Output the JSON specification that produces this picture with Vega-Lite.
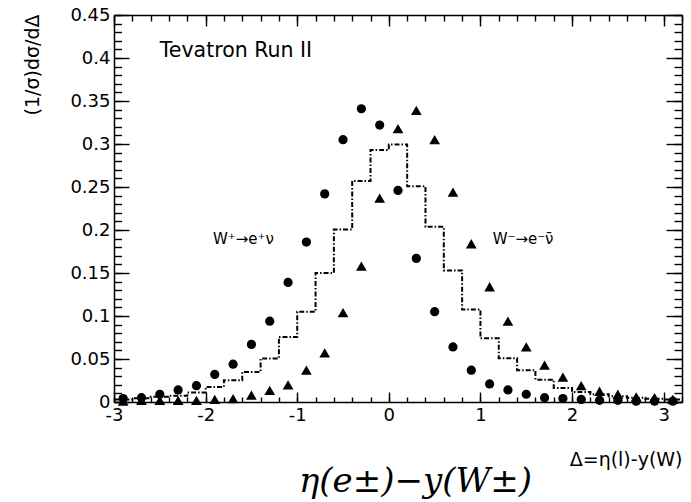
{
  "$schema": "https://vega.github.io/schema/vega-lite/v6.json",
  "width": 568,
  "height": 387,
  "autosize": {"type": "none"},
  "padding": {"left": 114, "top": 15, "right": 9, "bottom": 100},
  "background": "white",
  "config": {
    "view": {"stroke": null},
    "font": "DejaVu Sans",
    "axis": {
      "grid": false,
      "labelFont": "DejaVu Sans",
      "labelColor": "black",
      "tickColor": "black",
      "domainColor": "black",
      "domainWidth": 1.5,
      "tickWidth": 1.4,
      "labelFlush": false,
      "labelOverlap": false,
      "titleColor": "black",
      "titleFontWeight": "normal",
      "titleFont": "DejaVu Sans"
    }
  },
  "datasets": {
    "wplus": [
      {"delta": -2.9, "value": 0.004}, {"delta": -2.7, "value": 0.005}, {"delta": -2.5, "value": 0.009},
      {"delta": -2.3, "value": 0.014}, {"delta": -2.1, "value": 0.019}, {"delta": -1.9, "value": 0.032},
      {"delta": -1.7, "value": 0.044}, {"delta": -1.5, "value": 0.067}, {"delta": -1.3, "value": 0.094},
      {"delta": -1.1, "value": 0.139}, {"delta": -0.9, "value": 0.186}, {"delta": -0.7, "value": 0.242},
      {"delta": -0.5, "value": 0.305}, {"delta": -0.3, "value": 0.341}, {"delta": -0.1, "value": 0.322},
      {"delta": 0.1, "value": 0.246}, {"delta": 0.3, "value": 0.167}, {"delta": 0.5, "value": 0.105},
      {"delta": 0.7, "value": 0.064}, {"delta": 0.9, "value": 0.037}, {"delta": 1.1, "value": 0.021},
      {"delta": 1.3, "value": 0.014}, {"delta": 1.5, "value": 0.009}, {"delta": 1.7, "value": 0.005},
      {"delta": 1.9, "value": 0.004}, {"delta": 2.1, "value": 0.003}, {"delta": 2.3, "value": 0.002},
      {"delta": 2.5, "value": 0.002}, {"delta": 2.7, "value": 0.001}, {"delta": 2.9, "value": 0.001},
      {"delta": 3.1, "value": 0.001}
    ],
    "wminus": [
      {"delta": -2.9, "value": 0.001}, {"delta": -2.7, "value": 0.002}, {"delta": -2.5, "value": 0.002},
      {"delta": -2.3, "value": 0.002}, {"delta": -2.1, "value": 0.002}, {"delta": -1.9, "value": 0.003},
      {"delta": -1.7, "value": 0.004}, {"delta": -1.5, "value": 0.008}, {"delta": -1.3, "value": 0.0136},
      {"delta": -1.1, "value": 0.02}, {"delta": -0.9, "value": 0.037}, {"delta": -0.7, "value": 0.057},
      {"delta": -0.5, "value": 0.104}, {"delta": -0.3, "value": 0.158}, {"delta": -0.1, "value": 0.237},
      {"delta": 0.1, "value": 0.318}, {"delta": 0.3, "value": 0.339}, {"delta": 0.5, "value": 0.305},
      {"delta": 0.7, "value": 0.244}, {"delta": 0.9, "value": 0.184}, {"delta": 1.1, "value": 0.134},
      {"delta": 1.3, "value": 0.094}, {"delta": 1.5, "value": 0.064}, {"delta": 1.7, "value": 0.043},
      {"delta": 1.9, "value": 0.029}, {"delta": 2.1, "value": 0.019}, {"delta": 2.3, "value": 0.0125},
      {"delta": 2.5, "value": 0.009}, {"delta": 2.7, "value": 0.006}, {"delta": 2.9, "value": 0.005},
      {"delta": 3.1, "value": 0.003}
    ],
    "hist": [
      {"edge": -3.0, "value": 0.003}, {"edge": -2.8, "value": 0.0043}, {"edge": -2.6, "value": 0.006},
      {"edge": -2.4, "value": 0.0074}, {"edge": -2.2, "value": 0.011}, {"edge": -2.0, "value": 0.0175},
      {"edge": -1.8, "value": 0.0253}, {"edge": -1.6, "value": 0.035}, {"edge": -1.4, "value": 0.0505},
      {"edge": -1.2, "value": 0.0757}, {"edge": -1.0, "value": 0.105}, {"edge": -0.8, "value": 0.15},
      {"edge": -0.6, "value": 0.2006}, {"edge": -0.4, "value": 0.257}, {"edge": -0.2, "value": 0.293},
      {"edge": 0.0, "value": 0.2995}, {"edge": 0.2, "value": 0.251}, {"edge": 0.4, "value": 0.2037},
      {"edge": 0.6, "value": 0.153}, {"edge": 0.8, "value": 0.1075}, {"edge": 1.0, "value": 0.074},
      {"edge": 1.2, "value": 0.051}, {"edge": 1.4, "value": 0.0369}, {"edge": 1.6, "value": 0.026},
      {"edge": 1.8, "value": 0.0163}, {"edge": 2.0, "value": 0.0116}, {"edge": 2.2, "value": 0.009},
      {"edge": 2.4, "value": 0.0066}, {"edge": 2.6, "value": 0.005}, {"edge": 2.8, "value": 0.0037},
      {"edge": 3.0, "value": 0.003}, {"edge": 3.2, "value": 0.003}
    ]
  },
  "resolve": {"axis": {"x": "independent", "y": "independent"}},
  "layer": [
    {
      "data": {"name": "hist"},
      "mark": {"type": "line", "interpolate": "step-after", "color": "black", "strokeWidth": 2, "strokeDash": [5, 2, 1.5, 2]},
      "encoding": {
        "x": {"field": "edge", "type": "quantitative",
          "scale": {"domain": [-3, 3.2], "nice": false, "zero": false},
          "axis": {"orient": "top", "values": [-3, -2, -1, 0, 1, 2, 3], "tickSize": -11, "labels": false, "domain": true, "title": null}},
        "y": {"field": "value", "type": "quantitative",
          "scale": {"domain": [0, 0.45], "nice": false, "zero": true},
          "axis": {"orient": "right", "values": [0, 0.05, 0.1, 0.15, 0.2, 0.25, 0.3, 0.35, 0.4, 0.45], "tickSize": -16, "labels": false, "domain": true, "title": null}}
      }
    },
    {
      "data": {"name": "wplus"},
      "mark": {"type": "point", "shape": "circle", "filled": true, "size": 85, "color": "black", "opacity": 1},
      "encoding": {
        "x": {"field": "delta", "type": "quantitative",
          "scale": {"domain": [-3, 3.2], "nice": false, "zero": false},
          "axis": {"orient": "bottom", "values": [-3, -2, -1, 0, 1, 2, 3], "tickSize": -10, "labelPadding": 14,
            "labelFontSize": 18, "labelExpr": "datum.value + ''", "domain": true,
            "title": "Δ=η(l)-y(W)", "titleFontSize": 19, "titleX": 568, "titleY": 57, "titleAlign": "right",
            "titleBaseline": "middle", "titleAngle": 0}},
        "y": {"field": "value", "type": "quantitative",
          "scale": {"domain": [0, 0.45], "nice": false, "zero": true},
          "axis": {"orient": "left", "values": [0, 0.05, 0.1, 0.15, 0.2, 0.25, 0.3, 0.35, 0.4, 0.45], "tickSize": -15,
            "labelPadding": 19, "labelFontSize": 18, "labelExpr": "datum.value + ''", "domain": true,
            "title": "(1/σ)dσ/dΔ", "titleFontSize": 19, "titleX": -82, "titleY": -1, "titleAngle": -90,
            "titleAlign": "right", "titleBaseline": "middle"}}
      }
    },
    {
      "data": {"name": "wminus"},
      "mark": {"type": "point", "shape": "triangle-up", "filled": true, "size": 115, "color": "black", "opacity": 1},
      "encoding": {
        "x": {"field": "delta", "type": "quantitative",
          "scale": {"domain": [-3, 3.2], "nice": false, "zero": false},
          "axis": {"orient": "bottom", "values": [-3, -2.8, -2.6, -2.4, -2.2, -2, -1.8, -1.6, -1.4, -1.2, -1, -0.8, -0.6, -0.4, -0.2, 0, 0.2, 0.4, 0.6, 0.8, 1, 1.2, 1.4, 1.6, 1.8, 2, 2.2, 2.4, 2.6, 2.8, 3, 3.2],
            "tickSize": -5, "labels": false, "domain": false,
            "title": "η(e±)−y(W±)", "titleFont": "DejaVu Serif", "titleFontStyle": "italic", "titleFontSize": 34,
            "titleX": 301, "titleY": 89, "titleAlign": "center", "titleBaseline": "alphabetic", "titleAngle": 0}},
        "y": {"field": "value", "type": "quantitative",
          "scale": {"domain": [0, 0.45], "nice": false, "zero": true},
          "axis": {"orient": "left", "values": [0, 0.01, 0.02, 0.03, 0.04, 0.05, 0.06, 0.07, 0.08, 0.09, 0.1, 0.11, 0.12, 0.13, 0.14, 0.15, 0.16, 0.17, 0.18, 0.19, 0.2, 0.21, 0.22, 0.23, 0.24, 0.25, 0.26, 0.27, 0.28, 0.29, 0.3, 0.31, 0.32, 0.33, 0.34, 0.35, 0.36, 0.37, 0.38, 0.39, 0.4, 0.41, 0.42, 0.43, 0.44, 0.45],
            "tickSize": -7.5, "labels": false, "domain": false, "title": null}}
      }
    },
    {
      "data": {"values": [{}]},
      "mark": {"type": "text", "text": "Tevatron Run II", "align": "left", "baseline": "alphabetic", "fontSize": 20.5, "font": "DejaVu Sans", "color": "black"},
      "encoding": {
        "x": {"datum": -2.5, "type": "quantitative",
          "scale": {"domain": [-3, 3.2], "nice": false, "zero": false},
          "axis": {"orient": "top", "values": [-3, -2.8, -2.6, -2.4, -2.2, -2, -1.8, -1.6, -1.4, -1.2, -1, -0.8, -0.6, -0.4, -0.2, 0, 0.2, 0.4, 0.6, 0.8, 1, 1.2, 1.4, 1.6, 1.8, 2, 2.2, 2.4, 2.6, 2.8, 3, 3.2],
            "tickSize": -6, "labels": false, "domain": false, "title": null}},
        "y": {"datum": 0.401, "type": "quantitative",
          "scale": {"domain": [0, 0.45], "nice": false, "zero": true},
          "axis": {"orient": "right", "values": [0, 0.01, 0.02, 0.03, 0.04, 0.05, 0.06, 0.07, 0.08, 0.09, 0.1, 0.11, 0.12, 0.13, 0.14, 0.15, 0.16, 0.17, 0.18, 0.19, 0.2, 0.21, 0.22, 0.23, 0.24, 0.25, 0.26, 0.27, 0.28, 0.29, 0.3, 0.31, 0.32, 0.33, 0.34, 0.35, 0.36, 0.37, 0.38, 0.39, 0.4, 0.41, 0.42, 0.43, 0.44, 0.45],
            "tickSize": -8, "labels": false, "domain": false, "title": null}}
      }
    },
    {
      "data": {"values": [{}]},
      "mark": {"type": "text", "text": "W⁺→e⁺ν", "align": "left", "baseline": "alphabetic", "fontSize": 15, "font": "DejaVu Sans", "color": "black"},
      "encoding": {
        "x": {"datum": -1.92, "type": "quantitative", "axis": null},
        "y": {"datum": 0.1835, "type": "quantitative", "axis": null}
      }
    },
    {
      "data": {"values": [{}]},
      "mark": {"type": "text", "text": "W⁻→e⁻ν̄", "align": "left", "baseline": "alphabetic", "fontSize": 15, "font": "DejaVu Sans", "color": "black"},
      "encoding": {
        "x": {"datum": 1.133, "type": "quantitative", "axis": null},
        "y": {"datum": 0.1835, "type": "quantitative", "axis": null}
      }
    }
  ]
}
